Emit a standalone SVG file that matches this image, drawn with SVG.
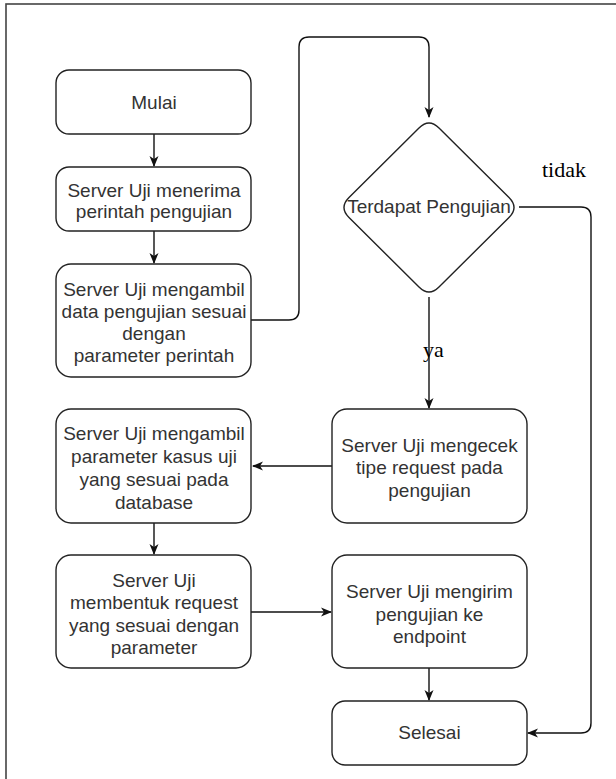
<svg xmlns="http://www.w3.org/2000/svg" width="616" height="779" viewBox="0 0 616 779">
<style>
.box{fill:#ffffff;stroke:#222222;stroke-width:1.4}
.lbl{font-family:"Liberation Sans",Arial,sans-serif;font-size:19px;fill:#333333;text-anchor:middle}
.edge{fill:none;stroke:#111111;stroke-width:1.4}
.cond{font-family:"Liberation Serif","Times New Roman",serif;font-size:22px;fill:#000000}
</style>
<defs>
<marker id="arr" markerWidth="12" markerHeight="10" refX="10" refY="5" orient="auto" markerUnits="userSpaceOnUse">
<path d="M0,0.5 L11,5 L0,9.5 L3,5 Z" fill="#111111"/>
</marker>
</defs>
<rect x="6" y="4" width="700" height="900" fill="#ffffff" stroke="#444444" stroke-width="1.6"/>
<g id="connectors">
<path class="edge" d="M154,134 V166" marker-end="url(#arr)"/>
<path class="edge" d="M154,231 V263" marker-end="url(#arr)"/>
<path class="edge" d="M251,320 H289 Q299,320 299,310 V47 Q299,37 309,37 H419 Q429,37 429,47 V117" marker-end="url(#arr)"/>
<path class="edge" d="M519,207 H581 Q591,207 591,217 V723 Q591,733 581,733 H528" marker-end="url(#arr)"/>
<path class="edge" d="M429,297 V408" marker-end="url(#arr)"/>
<path class="edge" d="M332,466 H253" marker-end="url(#arr)"/>
<path class="edge" d="M154,523 V554" marker-end="url(#arr)"/>
<path class="edge" d="M251,612 H331" marker-end="url(#arr)"/>
<path class="edge" d="M429,668 V700" marker-end="url(#arr)"/>
</g>
<g id="mulai">
<rect class="box" x="56" y="70" width="195" height="64" rx="13"/>
<text class="lbl" x="154" y="109">Mulai</text>
</g>
<g id="terima">
<rect class="box" x="56" y="167" width="195" height="64" rx="13"/>
<text class="lbl" x="154" y="197">Server Uji menerima</text>
<text class="lbl" x="154" y="218">perintah pengujian</text>
</g>
<g id="ambil-data">
<rect class="box" x="56" y="264" width="195" height="113" rx="15"/>
<text class="lbl" x="154" y="296">Server Uji mengambil</text>
<text class="lbl" x="154" y="318">data pengujian sesuai</text>
<text class="lbl" x="154" y="340">dengan</text>
<text class="lbl" x="154" y="362">parameter perintah</text>
</g>
<g id="decision">
<path class="box" d="M419,128 Q429,118 439,128 L509,197.5 Q519,207.5 509,217.5 L439,287 Q429,297 419,287 L349,217.5 Q339,207.5 349,197.5 Z"/>
<text class="lbl" x="429" y="213">Terdapat Pengujian</text>
</g>
<g id="cek-tipe">
<rect class="box" x="332" y="409" width="195" height="114" rx="15"/>
<text class="lbl" x="429.5" y="452">Server Uji mengecek</text>
<text class="lbl" x="429.5" y="474">tipe request pada</text>
<text class="lbl" x="429.5" y="497">pengujian</text>
</g>
<g id="ambil-param">
<rect class="box" x="56" y="409" width="195" height="114" rx="15"/>
<text class="lbl" x="154" y="440">Server Uji mengambil</text>
<text class="lbl" x="154" y="463">parameter kasus uji</text>
<text class="lbl" x="154" y="486">yang sesuai pada</text>
<text class="lbl" x="154" y="509">database</text>
</g>
<g id="bentuk">
<rect class="box" x="56" y="555" width="195" height="113" rx="15"/>
<text class="lbl" x="154" y="587">Server Uji</text>
<text class="lbl" x="154" y="609">membentuk request</text>
<text class="lbl" x="154" y="632">yang sesuai dengan</text>
<text class="lbl" x="154" y="654">parameter</text>
</g>
<g id="kirim">
<rect class="box" x="332" y="555" width="195" height="113" rx="15"/>
<text class="lbl" x="429.5" y="598">Server Uji mengirim</text>
<text class="lbl" x="429.5" y="621">pengujian ke</text>
<text class="lbl" x="429.5" y="643">endpoint</text>
</g>
<g id="selesai">
<rect class="box" x="332" y="701" width="195" height="64" rx="13"/>
<text class="lbl" x="429.5" y="739">Selesai</text>
</g>
<text class="cond" x="542" y="177">tidak</text>
<text class="cond" x="423" y="357">ya</text>
</svg>
